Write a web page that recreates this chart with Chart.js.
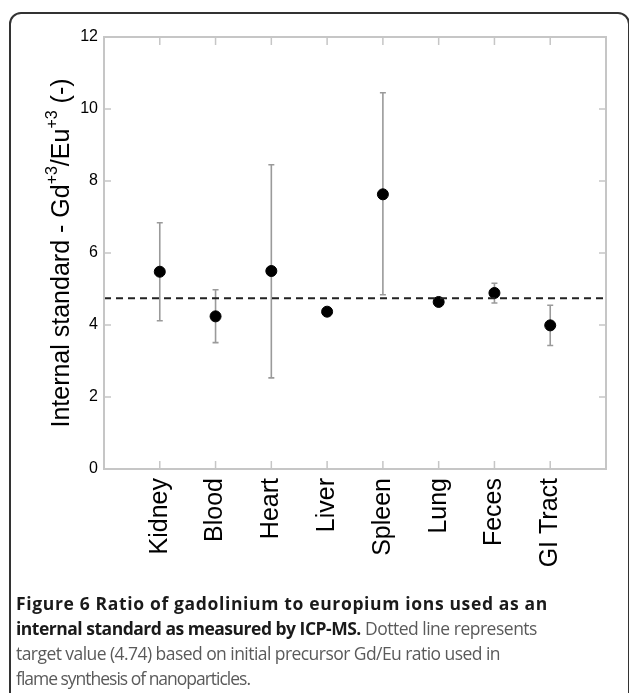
<!DOCTYPE html>
<html>
<head>
<meta charset="utf-8">
<script src="https://cdn.jsdelivr.net/npm/chart.js@4.4.0/dist/chart.umd.min.js"></script>
<style>
html, body { margin: 0; padding: 0; background: #fff; }
#wrap { position: relative; width: 629px; height: 693px; overflow: hidden; }
#frame { position: absolute; left: 9px; top: 12px; width: 621px; height: 720px; border: 2px solid #333; border-radius: 12px; box-sizing: border-box; }
#chart { position: absolute; left: 0; top: 0; }
#cap { position: absolute; left: 16px; top: 591px; font-family: "Open Sans", sans-serif; font-size: 17.5px; line-height: 25px; color: #5a5a5a; white-space: nowrap; }
#cap div { height: 25px; }
#cap span { display: inline-block; }
#cap b { color: #1a1a1a; font-weight: 700; }
</style>
</head>
<body>
<div id="wrap">
  <div id="frame"></div>
  <canvas id="chart" width="629" height="693"></canvas>
  <div id="cap">
    <div><span data-w="532"><b>Figure 6 Ratio of gadolinium to europium ions used as an</b></span></div>
    <div><span data-w="521"><b>internal standard as measured by ICP-MS.</b> Dotted line represents</span></div>
    <div><span data-w="484">target value (4.74) based on initial precursor Gd/Eu ratio used in</span></div>
    <div><span data-w="234">flame synthesis of nanoparticles.</span></div>
  </div>
</div>
<script>
// values
const categories = ['Kidney', 'Blood', 'Heart', 'Liver', 'Spleen', 'Lung', 'Feces', 'GI Tract'];
const means = [5.48, 4.24, 5.50, 4.37, 7.63, 4.64, 4.89, 3.99];
const lower = [4.12, 3.51, 2.53, 4.31, 4.84, 4.59, 4.61, 3.43];
const upper = [6.84, 4.98, 8.45, 4.43, 10.45, 4.69, 5.16, 4.55];
const target = 4.74;
const yTicks = [0, 2, 4, 6, 8, 10, 12];

// fit caption lines to the widths in the figure
function fitCaption() {
    document.querySelectorAll('#cap span').forEach(function(el) {
        el.style.letterSpacing = '0px';
        var goal = +el.dataset.w;
        var n = el.textContent.length;
        var w = el.getBoundingClientRect().width;
        el.style.letterSpacing = ((goal - w) / n).toFixed(3) + 'px';
    });
}
fitCaption();
if (document.fonts && document.fonts.ready) document.fonts.ready.then(fitCaption);

var axisGrey = '#c6c6c6';

var extras = {
    id: 'extras',
    beforeDatasetsDraw: function(chart) {
        var ctx = chart.ctx, xs = chart.scales.x, ys = chart.scales.y;
        ctx.save();
        ctx.strokeStyle = '#9a9a9a';
        ctx.lineWidth = 1.6;
        for (var i = 0; i < categories.length; i++) {
            var px = xs.getPixelForValue(i + 1);
            var top = ys.getPixelForValue(upper[i]);
            var bot = ys.getPixelForValue(lower[i]);
            ctx.beginPath();
            ctx.moveTo(px, top); ctx.lineTo(px, bot);
            ctx.moveTo(px - 3, top); ctx.lineTo(px + 3, top);
            ctx.moveTo(px - 3, bot); ctx.lineTo(px + 3, bot);
            ctx.stroke();
        }
        ctx.restore();
    },
    afterDraw: function(chart) {
        var ctx = chart.ctx, a = chart.chartArea, xs = chart.scales.x, ys = chart.scales.y;
        ctx.save();
        // box + inside ticks
        ctx.strokeStyle = axisGrey;
        ctx.lineWidth = 2;
        ctx.strokeRect(a.left, a.top, a.right - a.left, a.bottom - a.top);
        ctx.lineWidth = 1.5;
        ctx.beginPath();
        yTicks.forEach(function(v) {
            var py = ys.getPixelForValue(v);
            ctx.moveTo(a.left, py); ctx.lineTo(a.left + 7, py);
            ctx.moveTo(a.right, py); ctx.lineTo(a.right - 7, py);
        });
        categories.forEach(function(c, i) {
            var px = xs.getPixelForValue(i + 1);
            ctx.moveTo(px, a.top); ctx.lineTo(px, a.top + 8);
            ctx.moveTo(px, a.bottom); ctx.lineTo(px, a.bottom - 8);
        });
        ctx.stroke();

        // y axis title with superscripts
        var parts = [
            ['Internal standard - Gd', false],
            ['+3', true],
            ['/Eu', false],
            ['+3', true],
            [' (-)', false]
        ];
        var big = '25px "Liberation Sans", Arial, sans-serif';
        var small = '16px "Liberation Sans", Arial, sans-serif';
        var total = 0;
        parts.forEach(function(p) {
            ctx.font = p[1] ? small : big;
            p.w = ctx.measureText(p[0]).width;
            total += p.w;
        });
        ctx.translate(69, 253);
        ctx.rotate(-Math.PI / 2);
        ctx.fillStyle = '#000';
        ctx.textBaseline = 'alphabetic';
        var x = -total / 2;
        parts.forEach(function(p) {
            ctx.font = p[1] ? small : big;
            ctx.fillText(p[0], x, p[1] ? -12 : 0);
            x += p.w;
        });
        ctx.restore();
    }
};

var points = categories.map(function(c, i) { return { x: i + 1, y: means[i] }; });

new Chart(document.getElementById('chart').getContext('2d'), {
    type: 'scatter',
    data: {
        datasets: [{
            label: 'target',
            type: 'line',
            data: [{ x: 0, y: target }, { x: categories.length + 1, y: target }],
            borderColor: '#222',
            borderWidth: 2,
            borderDash: [7, 5],
            pointRadius: 0,
            fill: false
        }, {
            label: 'ratio',
            data: points,
            backgroundColor: '#000',
            borderColor: '#000',
            pointRadius: 5.5,
            pointHoverRadius: 5.5
        }]
    },
    options: {
        responsive: false,
        animation: false,
        events: [],
        layout: { padding: { top: 37, right: 23, left: 0, bottom: 0 } },
        plugins: { legend: { display: false }, tooltip: { enabled: false } },
        scales: {
            x: {
                type: 'linear',
                min: 0,
                max: categories.length + 1,
                grid: { display: false, drawTicks: false },
                border: { display: false },
                afterFit: function(s) { s.height = 693 - 469; },
                afterBuildTicks: function(s) {
                    s.ticks = categories.map(function(c, i) { return { value: i + 1 }; });
                },
                ticks: {
                    autoSkip: false,
                    minRotation: 90,
                    maxRotation: 90,
                    padding: 9,
                    color: '#000',
                    font: { family: '"Liberation Sans", Arial, sans-serif', size: 25 },
                    callback: function(v) { return categories[v - 1] || ''; }
                }
            },
            y: {
                min: 0,
                max: 12,
                grid: { display: false, drawTicks: false },
                border: { display: false },
                afterFit: function(s) { s.width = 104; },
                afterBuildTicks: function(s) {
                    s.ticks = yTicks.map(function(v) { return { value: v }; });
                },
                ticks: {
                    padding: 6,
                    color: '#000',
                    font: { family: '"Liberation Sans", Arial, sans-serif', size: 16 }
                }
            }
        }
    },
    plugins: [extras]
});
</script>
</body>
</html>
